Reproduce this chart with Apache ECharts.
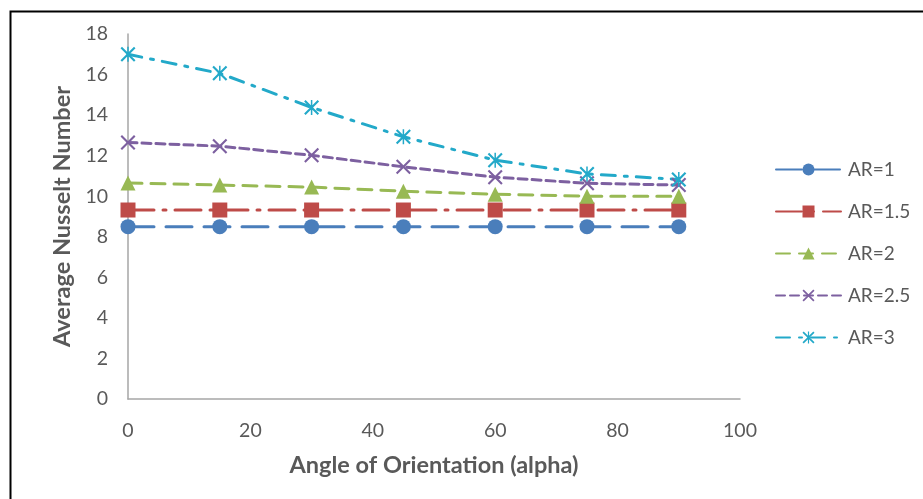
<!DOCTYPE html>
<html>
<head>
<meta charset="utf-8">
<script src="https://cdn.jsdelivr.net/npm/echarts@6/dist/echarts.min.js"></script>
<style>
html,body{margin:0;padding:0;background:#fff;}
#chart{width:923px;height:499px;}
</style>
</head>
<body>
<div id="chart"></div>
<script>
var angles = [0, 15, 30, 45, 60, 75, 90];
var ar1 = [8.5, 8.5, 8.5, 8.5, 8.5, 8.5, 8.5];
var ar15 = [9.32, 9.32, 9.32, 9.32, 9.32, 9.32, 9.32];
var ar2 = [10.65, 10.55, 10.45, 10.25, 10.1, 10.0, 10.0];
var ar25 = [12.65, 12.47, 12.02, 11.45, 10.94, 10.64, 10.55];
var ar3 = [17.0, 16.06, 14.38, 12.93, 11.78, 11.1, 10.83];
var seriesNames = ['AR=1', 'AR=1.5', 'AR=2', 'AR=2.5', 'AR=3'];
var xTitle = 'Angle of Orientation (alpha)';
var yTitle = 'Average Nusselt Number';

var FONT = 'Lato, "Open Sans", sans-serif';
var TXT = '#595959';
var AXIS = '#A6A6A6';

function pairs(vals) { return angles.map(function (a, i) { return [a, vals[i]]; }); }

var xPath = 'path://M0,1 L1,0 L5,4 L9,0 L10,1 L6,5 L10,9 L9,10 L5,6 L1,10 L0,9 L4,5 Z';
var starPath = 'path://M0,1 L1,0 L5,4 L9,0 L10,1 L6,5 L10,9 L9,10 L5,6 L1,10 L0,9 L4,5 Z M4.5,0 L5.5,0 L5.5,10 L4.5,10 Z';

var defs = [
  {data: ar1, color: '#4A7EBB', dash: [26, 12], symbol: 'circle', size: 15},
  {data: ar15, color: '#BE4B48', dash: [26, 9, 3, 9], symbol: 'rect', size: 15},
  {data: ar2, color: '#98B954', dash: [14, 9], symbol: 'triangle', size: 15},
  {data: ar25, color: '#7D60A0', dash: [9, 5], symbol: xPath, size: 15},
  {data: ar3, color: '#23A9C9', dash: [14, 9, 3, 9], symbol: starPath, size: 15}
];

var chart = echarts.init(document.getElementById('chart'));
chart.setOption({
  animation: false,
  backgroundColor: '#fff',
  grid: {left: 128, right: 183, top: 34, bottom: 100, containLabel: false},
  xAxis: {
    type: 'value', min: 0, max: 100, interval: 20,
    name: xTitle, nameLocation: 'middle', nameGap: 54,
    nameTextStyle: {color: TXT, fontSize: 23.5, fontWeight: 'bold', fontFamily: FONT},
    axisLine: {show: true, lineStyle: {color: AXIS, width: 1.5}},
    axisTick: {show: false},
    splitLine: {show: false},
    axisLabel: {color: TXT, fontSize: 19.5, fontFamily: FONT, margin: 22}
  },
  yAxis: {
    type: 'value', min: 0, max: 18, interval: 2,
    name: yTitle, nameLocation: 'middle', nameGap: 54, nameRotate: 90,
    nameTextStyle: {color: TXT, fontSize: 23.5, fontWeight: 'bold', fontFamily: FONT},
    axisLine: {show: true, lineStyle: {color: AXIS, width: 1.5}},
    axisTick: {show: false},
    splitLine: {show: false},
    axisLabel: {color: TXT, fontSize: 19.5, fontFamily: FONT, margin: 20}
  },
  legend: {
    orient: 'vertical', left: 775, top: 160, padding: 0,
    itemWidth: 65, itemHeight: 15, itemGap: 23,
    textStyle: {color: TXT, fontSize: 19, fontFamily: FONT, padding: [0, 0, 0, 2]},
    data: seriesNames
  },
  graphic: [{
    type: 'rect', left: 8, top: 9, z: 100, silent: true,
    shape: {x: 0, y: 0, width: 1000, height: 1000},
    style: {fill: 'none', stroke: '#000', lineWidth: 2}
  }],
  series: defs.map(function (d, i) {
    return {
      name: seriesNames[i], type: 'line', data: pairs(d.data),
      symbol: d.symbol, symbolSize: d.size, showSymbol: true,
      lineStyle: {color: d.color, width: 3, type: d.dash, cap: 'round'},
      itemStyle: {color: d.color, borderWidth: 0},
      emphasis: {disabled: true}
    };
  })
});
</script>
</body>
</html>
